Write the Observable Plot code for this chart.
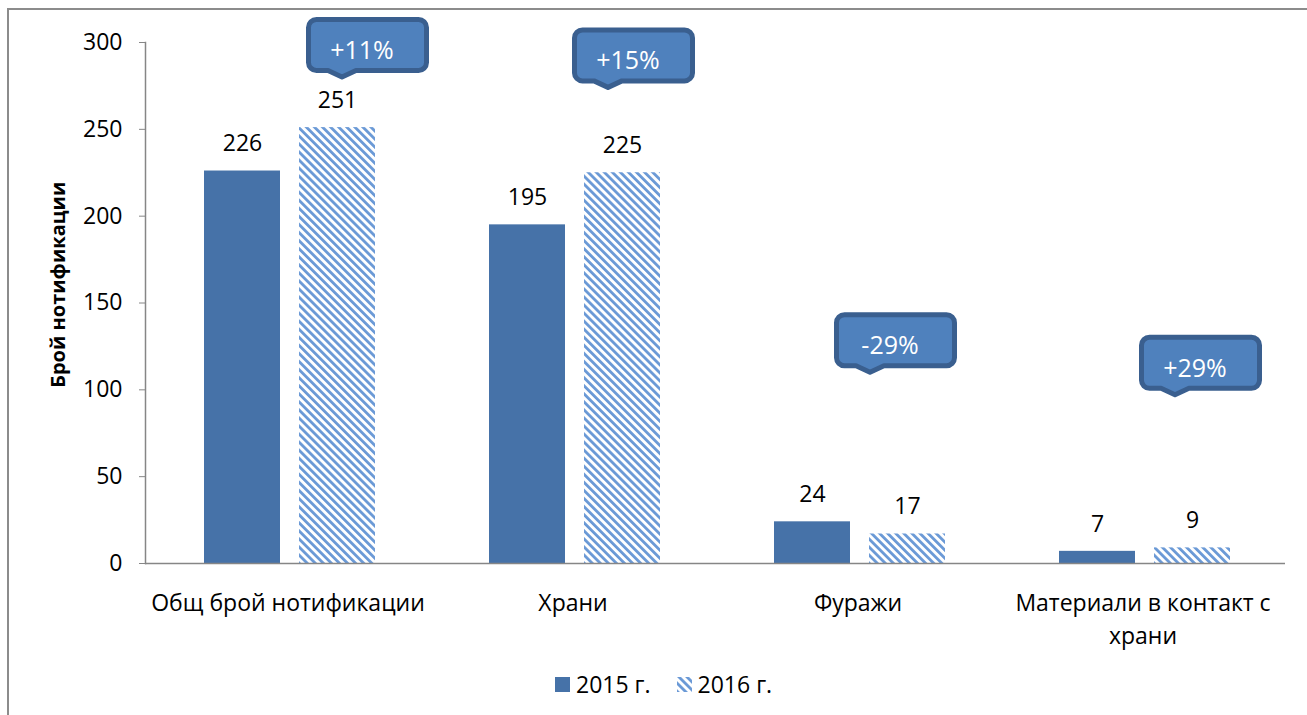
<!DOCTYPE html>
<html>
<head>
<meta charset="utf-8">
<script src="https://cdn.jsdelivr.net/npm/d3@7"></script>
<script src="https://cdn.jsdelivr.net/npm/@observablehq/plot@0.6"></script>
<style>
  html, body { margin: 0; padding: 0; background: #fff; overflow: hidden; }
  #wrap { position: relative; width: 1307px; height: 715px; overflow: hidden; font-family: "Open Sans", sans-serif; }
  #chart { position: absolute; left: 0; top: 0; }
  #border { position: absolute; left: 7px; top: 8px; width: 1400px; height: 800px;
            border-left: 2px solid #8c8c8c; border-top: 2px solid #8c8c8c; pointer-events: none; }
  #legend { position: absolute; left: 555px; top: 668px; height: 32px; display: flex; align-items: center;
            font-size: 23px; color: #000; white-space: nowrap; }
  #legend .sw { width: 15px; height: 15px; display: inline-block; margin-right: 6px; }
  #legend .item { display: flex; align-items: center; margin-right: 26px; }
</style>
</head>
<body>
<div id="wrap">
  <div id="chart"></div>
  <div id="legend"></div>
  <div id="border"></div>
</div>
<script>
// ---- data ----
const categories = ["Общ брой нотификации", "Храни", "Фуражи", "Материали в контакт с храни"];
const categoryLabels = ["Общ брой нотификации", "Храни", "Фуражи", "Материали в контакт с\nхрани"];
const years = ["2015 г.", "2016 г."];
const values2015 = [226, 195, 24, 7];
const values2016 = [251, 225, 17, 9];
const yTicks = [0, 50, 100, 150, 200, 250, 300];
const yTitle = "Брой нотификации";
const changeLabels = ["+11%", "+15%", "-29%", "+29%"];
const calloutTipValues = [279, 273, 109, 96];

// ---- layout / style constants ----
const BLUE = "#4672a8";
const STRIPE = "#6a99d6";
const GRAY = "#868686";
const CALLOUT_FILL = "#4f81bd";
const CALLOUT_STROKE = "#3a5f8f";
const CALLOUT_DX = [54, 35, 12, 32];
const TITLE_LEVEL = 160.5; // vertical centre of the axis title, in axis units
const FONT = '"Open Sans", sans-serif';

const rows = categories.flatMap((c, i) => [
  {cat: c, year: years[0], value: values2015[i]},
  {cat: c, year: years[1], value: values2016[i]}
]);

// callout shape: pointer tip at (0,0)
const calloutSymbol = {
  draw(ctx) {
    const l = -33.5, r = 84.5, t = -59.5, b = -8.5, rad = 8;
    ctx.moveTo(0, -2);
    ctx.lineTo(-14, b);
    ctx.lineTo(l + rad, b);
    ctx.arcTo(l, b, l, b - rad, rad);
    ctx.lineTo(l, t + rad);
    ctx.arcTo(l, t, l + rad, t, rad);
    ctx.lineTo(r - rad, t);
    ctx.arcTo(r, t, r, t + rad, rad);
    ctx.lineTo(r, b - rad);
    ctx.arcTo(r, b, r - rad, b, rad);
    ctx.lineTo(14, b);
    ctx.closePath();
  }
};

const calloutMarks = categories.flatMap((c, i) => [
  Plot.dot([c], {fx: d => d, y: () => calloutTipValues[i], symbol: calloutSymbol, r: 10,
    fill: CALLOUT_FILL, stroke: CALLOUT_STROKE, strokeWidth: 5, strokeLinejoin: "round", dx: CALLOUT_DX[i]}),
  Plot.text([c], {fx: d => d, y: () => calloutTipValues[i], text: () => changeLabels[i],
    dx: CALLOUT_DX[i] + 20, dy: -28, fill: "white", fontSize: 25})
]);

const chart = Plot.plot({
  width: 1307,
  height: 655,
  marginTop: 42,
  marginBottom: 92,
  marginLeft: 145,
  marginRight: 22,
  style: {fontFamily: FONT, background: "transparent", overflow: "visible"},
  fx: {domain: categories, padding: 0, axis: null, label: null},
  x: {domain: years, paddingInner: 0.2, paddingOuter: 0.6, align: 0.52, axis: null, label: null},
  y: {domain: [0, 300], axis: null, label: null},
  marks: [
    Plot.barY(rows.filter(d => d.year === years[0]), {fx: "cat", x: "year", y: "value", fill: BLUE}),
    Plot.barY(rows.filter(d => d.year === years[1]), {fx: "cat", x: "year", y: "value", fill: "url(#hatch2016)"}),
    Plot.ruleY([0], {stroke: GRAY, strokeWidth: 1.5}),
    Plot.axisY({ticks: yTicks, tickSize: 6, tickPadding: 17, stroke: GRAY, fill: "black", fontSize: 23, label: null}),
    Plot.axisFx({anchor: "bottom", tickSize: 0, tickPadding: 24, fontSize: 23, fill: "black", label: null,
      lineHeight: 1.43, tickFormat: d => categoryLabels[categories.indexOf(d)]}),
    Plot.frame({anchor: "left", facetAnchor: "left", stroke: GRAY, strokeWidth: 1.5}),
    Plot.text(rows, {fx: "cat", x: "year", y: "value", text: d => String(d.value), dy: -27, fontSize: 23, fill: "black"}),
    Plot.text([categories[0]], {fx: d => d, frameAnchor: "left", y: () => TITLE_LEVEL, text: () => yTitle,
      textAnchor: "middle", rotate: -90, dx: -87, fontSize: 20, fontWeight: "bold", fill: "black"}),
    ...calloutMarks
  ]
});

// hatch pattern definition
const svg = d3.select(chart);
const defs = svg.insert("defs", ":first-child");
function addPattern(d, id) {
  const p = d.append("pattern").attr("id", id).attr("patternUnits", "userSpaceOnUse")
    .attr("width", 5.7).attr("height", 5.7).attr("patternTransform", "rotate(-45)");
  p.append("rect").attr("width", 5.7).attr("height", 5.7).attr("fill", "white");
  p.append("rect").attr("width", 2.8).attr("height", 5.7).attr("fill", STRIPE);
}
addPattern(defs, "hatch2016");
document.getElementById("chart").appendChild(chart);

// legend
const legend = d3.select("#legend");
const it1 = legend.append("div").attr("class", "item");
it1.append("span").attr("class", "sw").style("background", BLUE);
it1.append("span").text(years[0]);
const it2 = legend.append("div").attr("class", "item");
const sw2 = it2.append("svg").attr("class", "sw").attr("width", 15).attr("height", 15);
addPattern(sw2.append("defs"), "hatchLegend");
sw2.append("rect").attr("width", 15).attr("height", 15).attr("fill", "url(#hatchLegend)");
it2.append("span").text(years[1]);
</script>
</body>
</html>
